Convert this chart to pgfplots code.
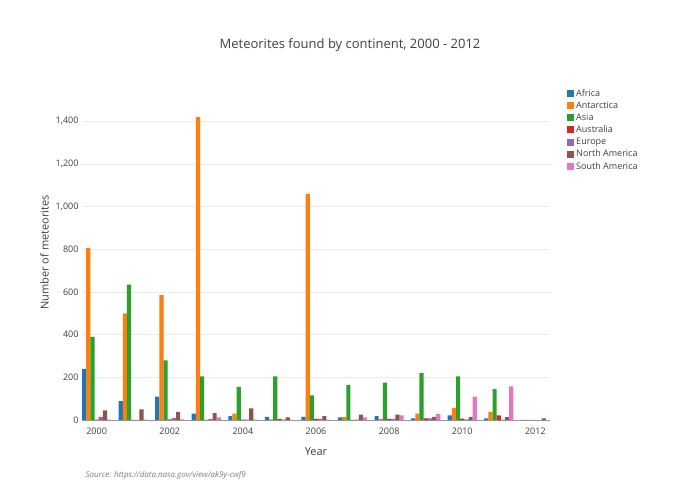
\documentclass[border=0pt]{standalone}
\usepackage{pgfplots}
\pgfplotsset{compat=1.18}
\usepackage{fontspec}
\setmainfont{Open Sans}
\definecolor{c1}{HTML}{1F77B4}\definecolor{c2}{HTML}{FF7F0E}\definecolor{c3}{HTML}{2CA02C}
\definecolor{c4}{HTML}{D62728}\definecolor{c5}{HTML}{9467BD}\definecolor{c6}{HTML}{8C564B}\definecolor{c7}{HTML}{E377C2}
\begin{document}
\begin{tikzpicture}
\path[use as bounding box,fill=white] (0pt,0pt) rectangle (700pt,500pt);
\node[font=\fontsize{13}{15}\selectfont,text=black!75] at (350pt,455pt) {Meteorites found by continent, 2000 - 2012};
\node[font=\fontsize{8}{10}\selectfont\itshape,text=black!50,anchor=west] at (82pt,25pt) {Source: https://data.nasa.gov/view/ak9y-cwf9};
\begin{axis}[at={(82pt,80pt)},anchor=south west,scale only axis,width=468pt,height=335pt,
  ybar=0pt, bar width=0.114,
  xmin=1999.6,xmax=2012.4,ymin=0,ymax=1570,
  xtick={2000,2002,...,2012},ytick={0,200,...,1400},
  xticklabel style={/pgf/number format/1000 sep=},
  /pgf/number format/assume math mode=true,
  tick label style={font=\fontsize{9}{11}\selectfont,text=black!75},
  axis line style={draw=none},tick style={draw=none},
  ymajorgrids,grid style={black!8},
  axis x line*=bottom, x axis line style={draw=black!40,line width=1pt},
  xlabel={Year},ylabel={Number of meteorites},
  label style={font=\fontsize{11}{13}\selectfont,text=black!75},
  xlabel style={yshift=-6pt},
  legend style={at={(1.03,1)},anchor=north west,draw=none,font=\fontsize{9}{13}\selectfont,text=black!75},
  legend cell align=left, legend image code/.code={\fill[#1] (0pt,-3.5pt) rectangle (7pt,3.5pt);},
  every axis plot/.append style={draw=none}
]
\addplot[fill=c1] coordinates {(2000,240)(2001,88)(2002,110)(2003,30)(2004,18)(2005,15)(2006,15)(2007,12)(2008,18)(2009,8)(2010,22)(2011,8)(2012,1)};
\addplot[fill=c2] coordinates {(2000,805)(2001,500)(2002,585)(2003,1420)(2004,30)(2005,3)(2006,1060)(2007,13)(2008,5)(2009,30)(2010,57)(2011,37)(2012,1)};
\addplot[fill=c3] coordinates {(2000,390)(2001,635)(2002,280)(2003,205)(2004,155)(2005,205)(2006,115)(2007,165)(2008,175)(2009,220)(2010,205)(2011,145)(2012,1)};
\addplot[fill=c4] coordinates {(2000,2)(2001,1)(2002,3)(2003,1)(2004,2)(2005,5)(2006,5)(2007,1)(2008,5)(2009,8)(2010,6)(2011,22)(2012,0)};
\addplot[fill=c5] coordinates {(2000,15)(2001,1)(2002,10)(2003,5)(2004,2)(2005,2)(2006,5)(2007,2)(2008,5)(2009,8)(2010,3)(2011,2)(2012,0)};
\addplot[fill=c6] coordinates {(2000,45)(2001,50)(2002,38)(2003,32)(2004,55)(2005,12)(2006,18)(2007,25)(2008,25)(2009,15)(2010,13)(2011,13)(2012,8)};
\addplot[fill=c7] coordinates {(2000,2)(2001,2)(2002,3)(2003,12)(2004,2)(2005,1)(2006,2)(2007,12)(2008,22)(2009,27)(2010,110)(2011,158)(2012,0)};
\legend{Africa,Antarctica,Asia,Australia,Europe,North America,South America}
\end{axis}
\end{tikzpicture}
\end{document}
